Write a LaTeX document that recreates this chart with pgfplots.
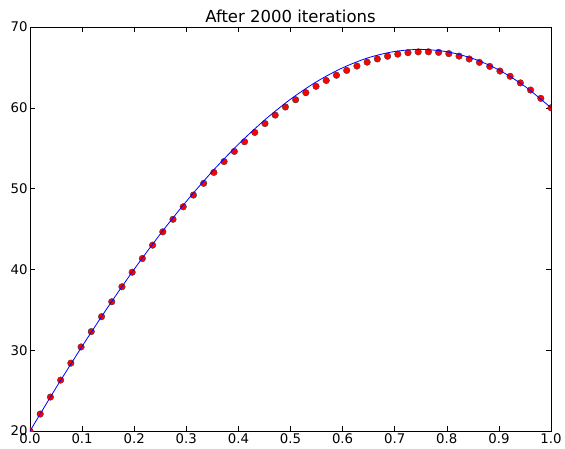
\documentclass[border=0pt]{standalone}
\usepackage{pgfplots}
\pgfplotsset{compat=1.18}
\usepackage{fontspec}
\setmainfont{DejaVu Sans}
\begin{document}
\begin{tikzpicture}
\path[use as bounding box] (-30pt,-17pt) rectangle (535pt,431pt);
\begin{axis}[
  at={(0,0)}, anchor=south west,
  scale only axis, width=521pt, height=404pt,
  xmin=0, xmax=1, ymin=20, ymax=70,
  xtick={0,0.1,...,1.0}, ytick={20,30,...,70},
  xticklabel style={/pgf/number format/fixed, /pgf/number format/fixed zerofill, /pgf/number format/precision=1, yshift=1pt},
  yticklabel style={xshift=1pt},
  /pgf/number format/assume math mode=true,
  tick label style={font=\fontsize{13.3}{15}\selectfont},
  tick align=inside, major tick length=5pt, tick style={black, line width=0.6pt},
  xtick pos=both, ytick pos=both,
  axis line style={black, line width=0.8pt},
  title={After 2000 iterations},
  title style={font=\fontsize{16.5}{18}\selectfont, yshift=-5pt},
  clip marker paths=true,
]
\addplot[only marks, mark=*, mark size=3.3pt, mark options={fill=red, draw=black!75, line width=0.4pt}] coordinates {
(0,20) (0.0196,22.1) (0.0392,24.2) (0.0588,26.3) (0.0784,28.4) (0.0980,30.4)
(0.1176,32.3) (0.1373,34.15) (0.1569,36.0) (0.1765,37.85) (0.1961,39.65)
(0.2157,41.35) (0.2353,43.0) (0.2549,44.65) (0.2745,46.2) (0.2941,47.75)
(0.3137,49.2) (0.3333,50.65) (0.3529,52.0) (0.3725,53.35) (0.3922,54.6)
(0.4118,55.8) (0.4314,56.95) (0.4510,58.05) (0.4706,59.1) (0.4902,60.1)
(0.5098,61.0) (0.5294,61.87) (0.5490,62.66) (0.5686,63.38) (0.5882,64.03)
(0.6078,64.63) (0.6275,65.17) (0.6471,65.65) (0.6667,66.05) (0.6863,66.38)
(0.7059,66.64) (0.7255,66.82) (0.7451,66.92) (0.7647,66.93) (0.7843,66.86)
(0.8039,66.7) (0.8235,66.4) (0.8431,66.04) (0.8627,65.62) (0.8824,65.12)
(0.9020,64.55) (0.9216,63.9) (0.9412,63.08) (0.9608,62.2) (0.9804,61.17) (1.0,60.0)
};
\addplot[blue, line width=0.8pt, smooth] coordinates {
(0,20) (0.05,25.35) (0.10,30.48) (0.15,35.38) (0.20,40.02) (0.25,44.37)
(0.30,48.41) (0.35,52.13) (0.40,55.49) (0.45,58.47) (0.50,61.06) (0.55,63.23)
(0.60,64.95) (0.65,66.21) (0.70,66.97) (0.75,67.23) (0.80,66.94) (0.85,66.10)
(0.90,64.68) (0.95,62.65) (1.0,60.0)
};
\end{axis}
\end{tikzpicture}
\end{document}
